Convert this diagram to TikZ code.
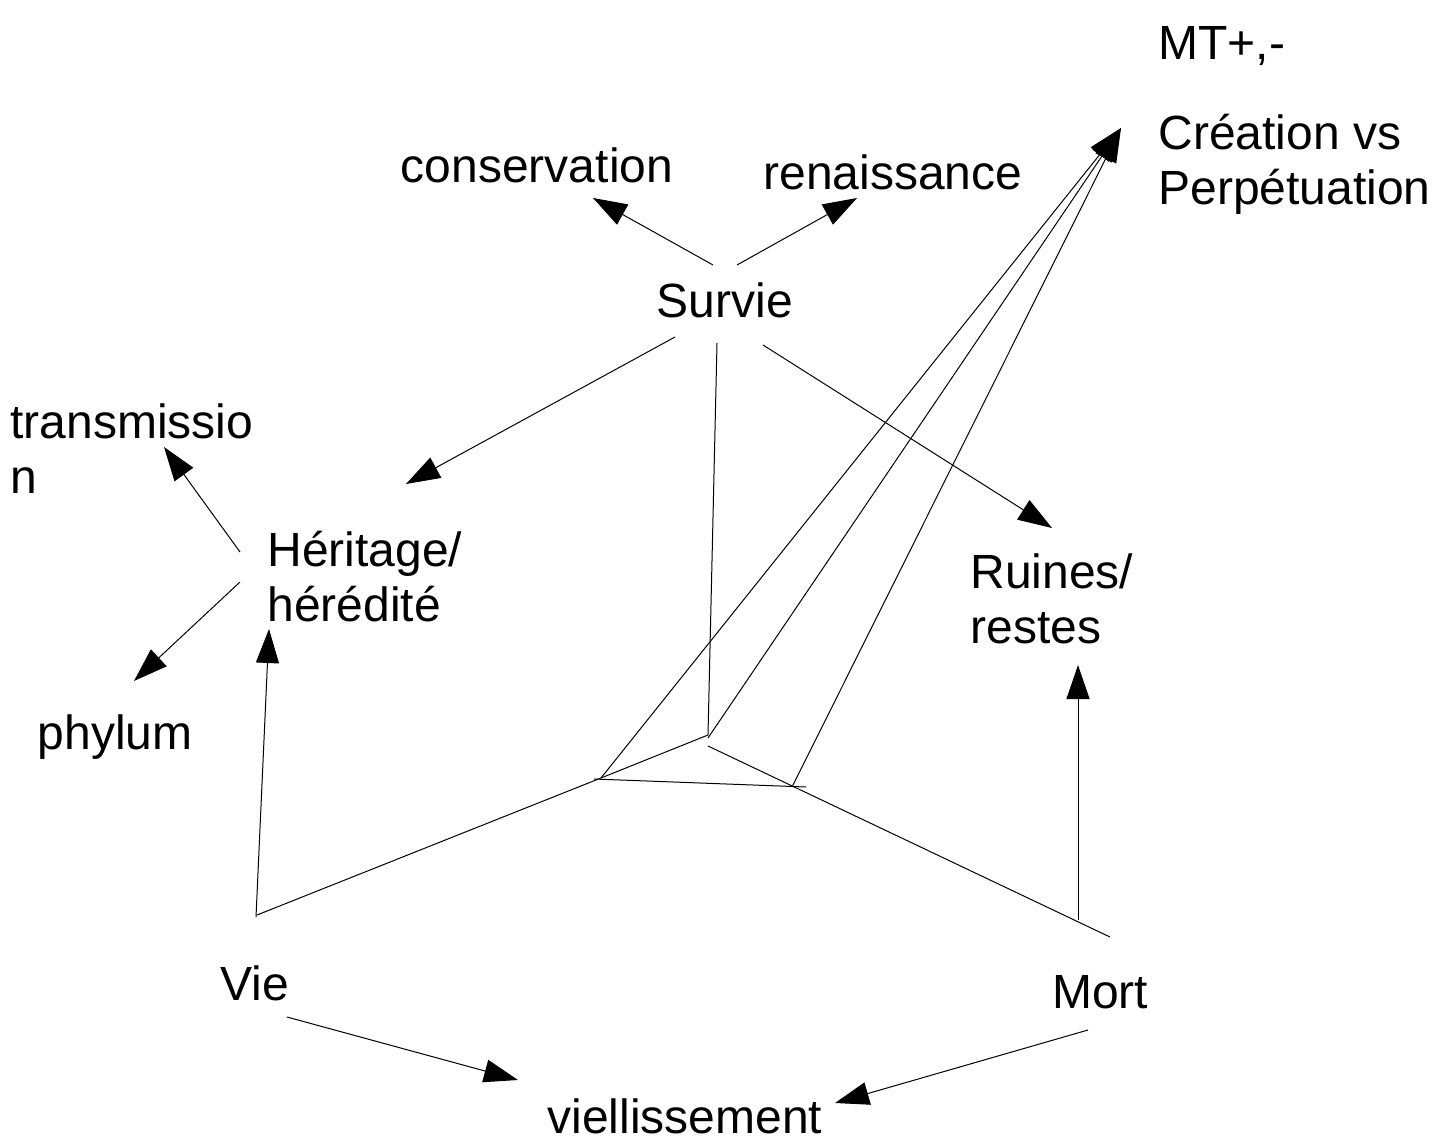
\documentclass[tikz,border=0pt]{standalone}
\usepackage{fontspec}
\setmainfont{Liberation Sans}
\usetikzlibrary{arrows.meta}

\begin{document}
\begin{tikzpicture}[x=0.5pt, y=-0.5pt, line width=0.5pt,
    >={Triangle[length=17pt, width=11.5pt]},
    lbl/.style={inner sep=0pt, font=\fontsize{24}{27.5}\selectfont}]
        \useasboundingbox (0,0) rectangle (1450,1144);

        % labels (base of a two-line label = its last line)
        \node[lbl, anchor=base west] (mt)    at (1158,60)  {MT+,-};
        \node[lbl, anchor=base west, align=left] (crea) at (1158,205) {Création vs\\Perpétuation};
        \node[lbl, anchor=base] (cons)  at (537,183)  {conservation};
        \node[lbl, anchor=base] (ren)   at (893,190)  {renaissance};
        \node[lbl, anchor=base] (surv)  at (725,318)  {Survie};
        \node[lbl, anchor=base west, align=left] (trans) at (10,493) {transmissio\\n};
        \node[lbl, anchor=base west, align=left] (her)   at (267,621) {Héritage/\\hérédité};
        \node[lbl, anchor=base west, align=left] (ruin)  at (970,643) {Ruines/\\restes};
        \node[lbl, anchor=base] (phyl)  at (115,749)  {phylum};
        \node[lbl, anchor=base] (vie)   at (255,1000) {Vie};
        \node[lbl, anchor=base] (mort)  at (1100,1008) {Mort};
        \node[lbl, anchor=base] (viel)  at (685,1133) {viellissement};

        % free ends of the connectors
        \coordinate (survNW) at (713,265);
        \coordinate (survNE) at (737,265);
        \coordinate (survSW) at (675,337);
        \coordinate (survS)  at (717,343);
        \coordinate (survSE) at (763,345);
        \coordinate (consIn) at (593,198);
        \coordinate (renIn)  at (857,198);
        \coordinate (herIn)  at (406,484);
        \coordinate (herUp)  at (240,552);
        \coordinate (herDn)  at (240,582);
        \coordinate (herBot) at (269,629);
        \coordinate (transIn) at (164,447);
        \coordinate (phylIn) at (134,681);
        \coordinate (ruinIn) at (1052,528);
        \coordinate (ruinBot) at (1078,665);
        \coordinate (creaIn) at (1121,128);
        \coordinate (vieUp)  at (256,917);
        \coordinate (vieRt)  at (257,915);
        \coordinate (vieDn)  at (287,1017);
        \coordinate (mortUp) at (1078,920);
        \coordinate (mortLt) at (1110,937);
        \coordinate (mortDn) at (1088,1030);
        \coordinate (vielL)  at (518,1080);
        \coordinate (vielR)  at (835,1103);
        \coordinate (j1) at (601,778);
        \coordinate (j2) at (708,738);
        \coordinate (j3) at (792,787);
        \coordinate (hl) at (594,779);
        \coordinate (hr) at (806,787);

        \path[->]
        (survNW) edge (consIn)
        (survNE) edge (renIn)
        (survSW) edge (herIn)
        (survSE) edge (ruinIn)
        (herUp) edge (transIn)
        (herDn) edge (phylIn)
        (vieUp) edge (herBot)
        (mortUp) edge (ruinBot)
        (vieDn) edge (vielL)
        (mortDn) edge (vielR)
        (j1) edge (creaIn)
        (j2) edge (creaIn)
        (j3) edge (creaIn);

        \draw (survS) -- (708,735) -- (j1) -- (vieRt);
        \draw (708,746) -- (mortLt);
        \draw (hl) -- (hr);
\end{tikzpicture}
\end{document}
